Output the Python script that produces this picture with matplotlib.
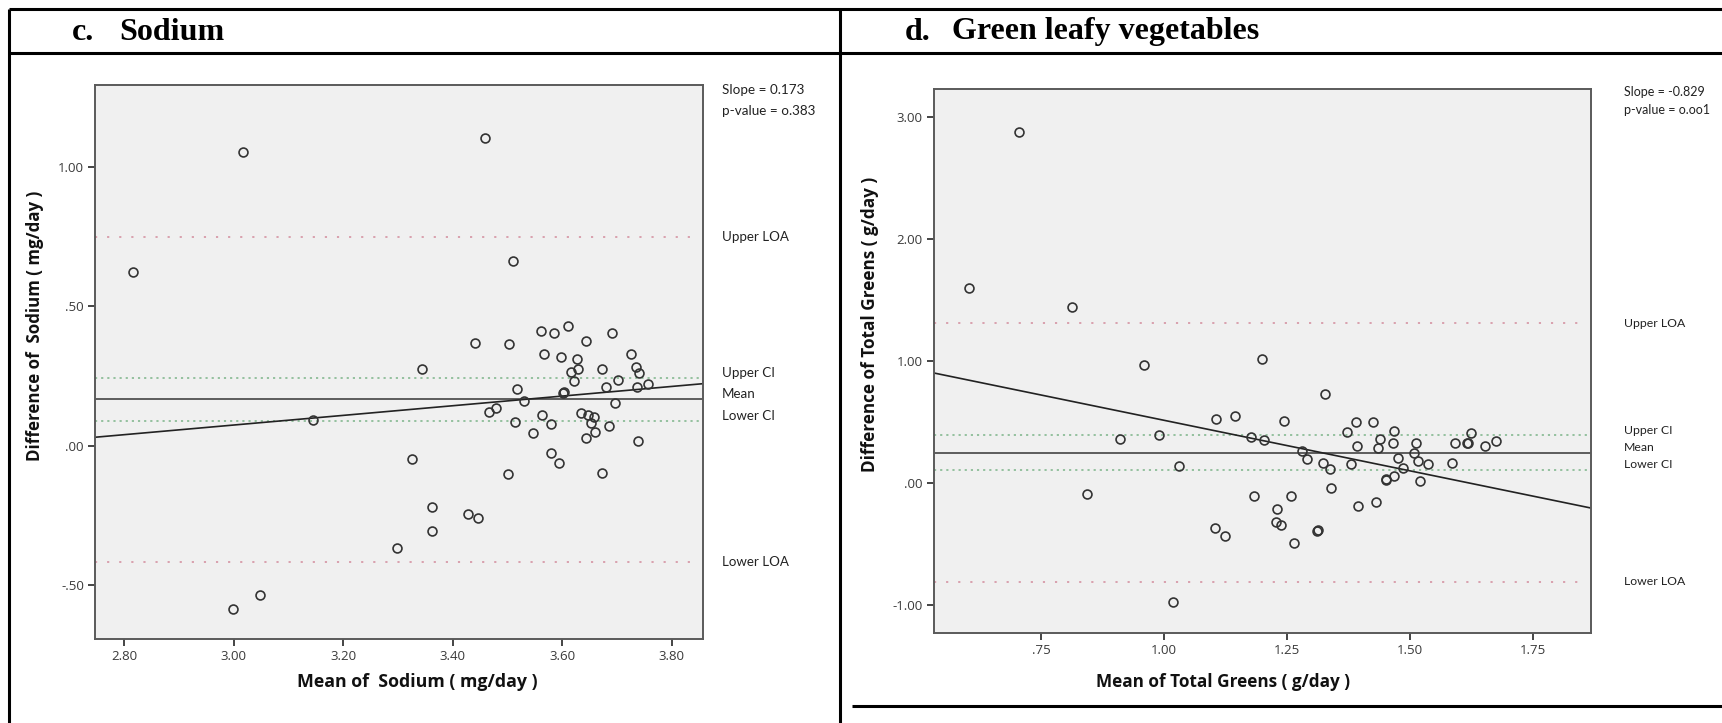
import matplotlib
matplotlib.use("Agg")
import matplotlib.pyplot as plt
import matplotlib.transforms as mtransforms
from matplotlib.lines import Line2D
from matplotlib.ticker import FuncFormatter

# Sodium: mean of the two methods vs. their difference
sodium_mean = [3.017, 2.816, 3.344, 3.459, 3.511, 3.440, 3.502, 3.562, 3.585, 3.610,
               3.643, 3.690, 3.567, 3.598, 3.627, 3.725, 3.628, 3.616, 3.672, 3.735,
               3.740, 3.621, 3.701, 3.756, 3.737, 3.680, 3.518, 3.603, 3.602, 3.530,
               3.696, 3.466, 3.480, 3.563, 3.513, 3.547, 3.580, 3.635, 3.647, 3.658,
               3.652, 3.659, 3.644, 3.685, 3.739, 3.580, 3.595, 3.501, 3.672, 3.363,
               3.362, 3.428, 3.447, 3.145, 3.325, 3.298, 3.048, 2.999]
sodium_diff = [1.053, 0.625, 0.275, 1.104, 0.663, 0.368, 0.366, 0.413, 0.406, 0.431,
               0.376, 0.406, 0.330, 0.318, 0.313, 0.330, 0.277, 0.265, 0.276, 0.282,
               0.261, 0.234, 0.238, 0.222, 0.213, 0.210, 0.203, 0.195, 0.190, 0.161,
               0.155, 0.121, 0.136, 0.111, 0.087, 0.048, 0.079, 0.117, 0.111, 0.105,
               0.081, 0.049, 0.027, 0.073, 0.018, -0.026, -0.060, -0.102, -0.098, -0.220,
               -0.306, -0.245, -0.259, 0.093, -0.047, -0.367, -0.534, -0.584]
sodium_lines = {"Upper LOA": 0.749, "Upper CI": 0.244, "Mean": 0.168,
                "Lower CI": 0.090, "Lower LOA": -0.416}
sodium_slope, sodium_icpt = 0.173, -0.444
sodium_xticks = [2.80, 3.00, 3.20, 3.40, 3.60, 3.80]
sodium_yticks = [-0.50, 0.00, 0.50, 1.00]

# Total greens
greens_mean = [0.705, 0.604, 0.813, 0.959, 1.200, 1.327, 1.106, 1.144, 1.243, 0.910,
               0.989, 1.177, 1.204, 1.031, 0.843, 1.183, 1.258, 1.230, 1.228, 1.238,
               1.104, 1.125, 1.264, 1.019, 1.390, 1.424, 1.373, 1.468, 1.439, 1.466,
               1.392, 1.435, 1.512, 1.509, 1.280, 1.290, 1.323, 1.338, 1.380, 1.476,
               1.517, 1.536, 1.485, 1.468, 1.451, 1.452, 1.520, 1.585, 1.591, 1.616,
               1.618, 1.625, 1.653, 1.675, 1.340, 1.394, 1.430, 1.312, 1.314]
greens_diff = [2.874, 1.596, 1.440, 0.967, 1.014, 0.727, 0.525, 0.552, 0.511, 0.363,
               0.396, 0.380, 0.355, 0.142, -0.090, -0.104, -0.104, -0.216, -0.317, -0.344,
               -0.366, -0.432, -0.495, -0.978, 0.503, 0.503, 0.415, 0.426, 0.358, 0.331,
               0.306, 0.290, 0.331, 0.243, 0.265, 0.194, 0.161, 0.115, 0.153, 0.202,
               0.180, 0.153, 0.120, 0.057, 0.025, 0.030, 0.016, 0.167, 0.331, 0.325,
               0.330, 0.407, 0.303, 0.347, -0.038, -0.186, -0.158, -0.391, -0.386]
greens_lines = {"Upper LOA": 1.311, "Upper CI": 0.393, "Mean": 0.246,
                "Lower CI": 0.107, "Lower LOA": -0.811}
greens_slope, greens_icpt = -0.829, 1.343
greens_xticks = [0.75, 1.00, 1.25, 1.50, 1.75]
greens_yticks = [-1.00, 0.00, 1.00, 2.00, 3.00]

W, H = 1722, 723
fig = plt.figure(figsize=(W / 100, H / 100), dpi=100)
fig.patch.set_facecolor("white")


def fx(x):
    return x / W


def fy(y):
    return 1 - y / H


def spss_fmt(v, pos=None):
    s = f"{v:.2f}"
    if s.startswith("0."):
        s = s[1:]
    elif s.startswith("-0."):
        s = "-" + s[2:]
    return s


LOA_COLOR = "#d79aa8"
CI_COLOR = "#8dbd98"
SANS = ["Open Sans", "DejaVu Sans"]
NOTE = ["Lato", "DejaVu Sans"]


def bland_altman(rect, xs, ys, lines, slope, icpt, xlim, ylim, xticks, yticks,
                 xlabel, ylabel, xlab_pos, ylab_pos, lab_size,
                 note_x, slope_txt, p_txt, note_y, note_size):
    ax = fig.add_axes(rect)
    ax.set_facecolor("#f0f0f0")
    ax.set_xlim(*xlim)
    ax.set_ylim(*ylim)
    for sp in ax.spines.values():
        sp.set_color("#5a5a5a")
        sp.set_linewidth(1.4)

    ax.axhline(lines["Upper LOA"], color=LOA_COLOR, lw=1.3, ls=(0, (1.2, 5.5)), xmax=0.985)
    ax.axhline(lines["Lower LOA"], color=LOA_COLOR, lw=1.3, ls=(0, (1.2, 5.5)), xmax=0.985)
    ax.axhline(lines["Upper CI"], color=CI_COLOR, lw=1.3, ls=(0, (1.2, 2.2)))
    ax.axhline(lines["Lower CI"], color=CI_COLOR, lw=1.3, ls=(0, (1.2, 2.2)))
    ax.axhline(lines["Mean"], color="#444444", lw=1.2)

    rx = list(xlim)
    ax.plot(rx, [icpt + slope * v for v in rx], color="#222222", lw=1.2)

    ax.plot(xs, ys, ls="none", marker="o", ms=6.4, mfc="none",
            mec="#333333", mew=1.2)

    ax.set_xticks(xticks)
    ax.set_yticks(yticks)
    ax.xaxis.set_major_formatter(FuncFormatter(spss_fmt))
    ax.yaxis.set_major_formatter(FuncFormatter(spss_fmt))
    ax.tick_params(direction="out", length=5, width=1.4, color="#444444",
                   labelsize=9.5, labelcolor="#3a3a3a", pad=3)
    for lab in ax.get_xticklabels() + ax.get_yticklabels():
        lab.set_family(SANS)

    ax.set_xlabel(xlabel, fontsize=lab_size[0], fontweight="bold", family=SANS, color="#111111")
    ax.set_ylabel(ylabel, fontsize=lab_size[1], fontweight="bold", family=SANS, color="#111111")
    ax.xaxis.set_label_coords(*xlab_pos)
    ax.yaxis.set_label_coords(*ylab_pos)

    blend = mtransforms.blended_transform_factory(ax.transAxes, ax.transData)
    for name, val in lines.items():
        dy = 0 if "LOA" in name else 5
        ax.annotate(name, xy=(note_x, val), xycoords=blend, xytext=(0, dy),
                    textcoords="offset pixels", va="center", ha="left",
                    fontsize=note_size[1], family=NOTE, color="#222222",
                    annotation_clip=False)
    ax.text(note_x, note_y[0], slope_txt, transform=ax.transAxes, va="center",
            ha="left", fontsize=note_size[0], family=NOTE, color="#222222")
    ax.text(note_x, note_y[1], p_txt, transform=ax.transAxes, va="center",
            ha="left", fontsize=note_size[0], family=NOTE, color="#222222")
    return ax


bland_altman([fx(95), fy(639), fx(703) - fx(95), fy(85) - fy(639)],
             sodium_mean, sodium_diff, sodium_lines, sodium_slope, sodium_icpt,
             (2.747, 3.857), (-0.692, 1.294), sodium_xticks, sodium_yticks,
             "Mean of  Sodium ( mg/day )", "Difference of  Sodium ( mg/day )",
             (0.53, -0.061), (-0.084, 0.565), (12.8, 12.2),
             1.031, "Slope = 0.173", "p-value = o.383", (0.991, 0.953), (9.7, 9.6))

bland_altman([fx(934), fy(633), fx(1591) - fx(934), fy(89) - fy(633)],
             greens_mean, greens_diff, greens_lines, greens_slope, greens_icpt,
             (0.5325, 1.868), (-1.23, 3.23), greens_xticks, greens_yticks,
             "Mean of Total Greens ( g/day )", "Difference of Total Greens ( g/day )",
             (0.44, -0.074), (-0.084, 0.568), (12.3, 12.3),
             1.050, "Slope = -0.829", "p-value = o.oo1", (0.994, 0.961), (9.0, 8.8))

# table frame around the two panels
frame = dict(color="black", lw=2.2, transform=fig.transFigure, solid_capstyle="butt")
fig.add_artist(Line2D([fx(9), 1], [fy(9), fy(9)], **frame))
fig.add_artist(Line2D([fx(9), 1], [fy(53), fy(53)], **frame))
fig.add_artist(Line2D([fx(9), fx(9)], [fy(9), 0], **frame))
fig.add_artist(Line2D([fx(840), fx(840)], [fy(9), 0], **frame))
fig.add_artist(Line2D([fx(852), 1], [fy(706), fy(706)], **frame))

# panel headings
SERIF = ["Liberation Serif", "DejaVu Serif"]
for x, t in [(72, "c."), (119, "Sodium"), (905, "d."), (952, "Green leafy vegetables")]:
    fig.text(fx(x), fy(32), t, fontsize=23, fontweight="bold", family=SERIF,
             va="center", ha="left", color="black")

fig.savefig("out.png", dpi=100, facecolor="white")
